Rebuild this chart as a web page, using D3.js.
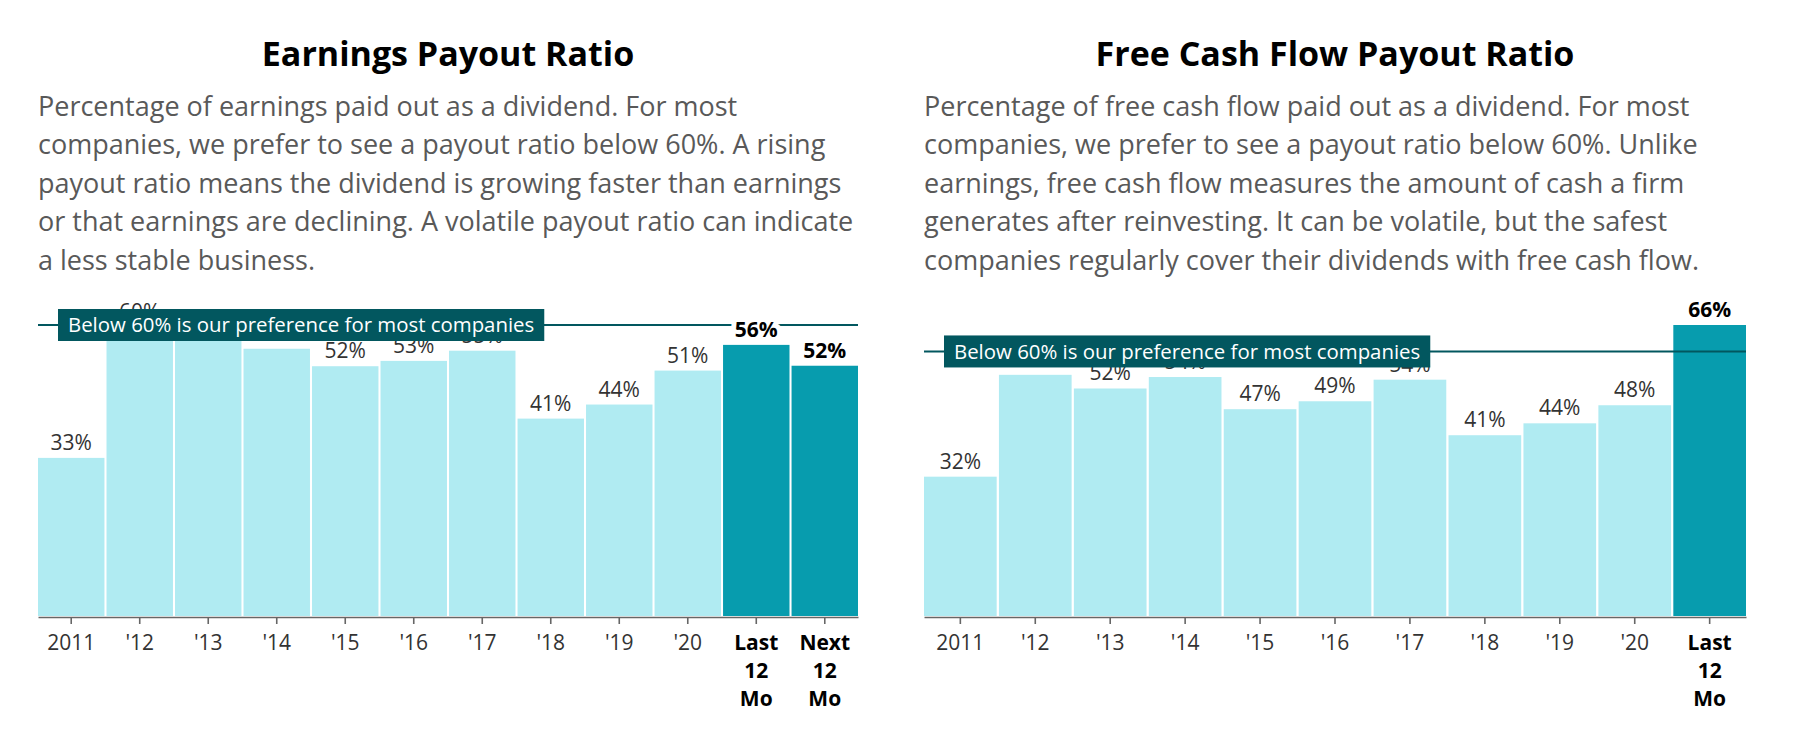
<!DOCTYPE html>
<html>
<head>
<meta charset="utf-8">
<script src="https://cdn.jsdelivr.net/npm/d3@7"></script>
<style>
  html, body { margin: 0; padding: 0; background: #fff; }
  svg { display: block; font-family: "Open Sans", "Noto Sans", sans-serif; }
</style>
</head>
<body>
<svg id="chart" width="1798" height="738"></svg>
<script>
// ---------- data ----------
const earningsCategories = ["2011", "'12", "'13", "'14", "'15", "'16", "'17", "'18", "'19", "'20", "Last 12 Mo", "Next 12 Mo"];
const earningsValues     = [32.6, 59.6, 58.0, 55.1, 51.5, 52.6, 54.7, 40.7, 43.6, 50.6, 55.9, 51.6];
const earningsHighlight  = [false, false, false, false, false, false, false, false, false, false, true, true];

const fcfCategories = ["2011", "'12", "'13", "'14", "'15", "'16", "'17", "'18", "'19", "'20", "Last 12 Mo"];
const fcfValues     = [31.6, 54.7, 51.6, 54.2, 46.9, 48.7, 53.6, 41.0, 43.7, 47.8, 66.0];
const fcfHighlight  = [false, false, false, false, false, false, false, false, false, false, true];

const earningsTitle = "Earnings Payout Ratio";
const earningsDescription = [
  "Percentage of earnings paid out as a dividend. For most",
  "companies, we prefer to see a payout ratio below 60%. A rising",
  "payout ratio means the dividend is growing faster than earnings",
  "or that earnings are declining. A volatile payout ratio can indicate",
  "a less stable business."
];
const fcfTitle = "Free Cash Flow Payout Ratio";
const fcfDescription = [
  "Percentage of free cash flow paid out as a dividend. For most",
  "companies, we prefer to see a payout ratio below 60%. Unlike",
  "earnings, free cash flow measures the amount of cash a firm",
  "generates after reinvesting. It can be volatile, but the safest",
  "companies regularly cover their dividends with free cash flow."
];
const thresholdValue = 60;
const thresholdLabel = "Below 60% is our preference for most companies";

// ---------- drawing ----------
const svg = d3.select("#chart");
const fmt = v => d3.format(".0f")(v) + "%";

const COLORS = {
  light: "#b0ebf2",
  dark: "#079cae",
  ref: "#02575f",
  axis: "#666666",
  label: "#333333",
  desc: "#595959"
};

function drawPanel(cfg) {
  const g = svg.append("g");
  const { x0, x1, categories, values, highlight, title, description } = cfg;
  const baseY = 616, topY = 325;

  // title
  g.append("text")
    .attr("x", (x0 + x1) / 2).attr("y", 66)
    .attr("text-anchor", "middle")
    .style("font-size", "34px").style("font-weight", 700).style("fill", "#000")
    .text(title);

  // description
  g.append("g").selectAll("text").data(description).join("text")
    .attr("x", x0).attr("y", (d, i) => 116 + i * 38.4)
    .style("font-size", "27px").style("fill", COLORS.desc)
    .text(d => d);

  const x = d3.scaleBand().domain(categories).range([x0, x1]).paddingInner(0.03).paddingOuter(0);
  const y = d3.scaleLinear().domain([0, Math.max(thresholdValue, d3.max(values))]).range([baseY, topY]);

  const data = categories.map((c, i) => ({ c, v: values[i], h: highlight[i] }));

  // bars
  g.append("g").selectAll("rect").data(data).join("rect")
    .attr("x", d => x(d.c)).attr("width", x.bandwidth())
    .attr("y", d => y(d.v)).attr("height", d => y(0) - y(d.v))
    .attr("fill", d => d.h ? COLORS.dark : COLORS.light);

  // threshold line
  g.append("line")
    .attr("x1", x0).attr("x2", x1)
    .attr("y1", y(thresholdValue)).attr("y2", y(thresholdValue))
    .attr("stroke", COLORS.ref).attr("stroke-width", 2);

  // value labels
  g.append("g").selectAll("text").data(data).join("text")
    .attr("x", d => x(d.c) + x.bandwidth() / 2)
    .attr("y", d => y(d.v) - 8)
    .attr("text-anchor", "middle")
    .style("font-size", "21px")
    .style("font-weight", d => d.h ? 700 : 400)
    .style("fill", d => d.h ? "#000" : COLORS.label)
    .attr("stroke", "#fff").attr("stroke-width", d => d.h ? 10 : 0)
    .attr("stroke-linejoin", "round")
    .style("paint-order", "stroke")
    .text(d => fmt(d.v));

  // annotation box
  const ann = g.append("g");
  const annText = ann.append("text")
    .attr("x", x0 + 20 + 10).attr("y", y(thresholdValue))
    .attr("dy", "0.35em")
    .style("font-size", "20.4px").style("fill", "#fff")
    .text(thresholdLabel);
  const tw = annText.node().getComputedTextLength();
  ann.insert("rect", "text")
    .attr("x", x0 + 20).attr("y", y(thresholdValue) - 16)
    .attr("width", tw + 20).attr("height", 32)
    .attr("fill", COLORS.ref);

  // axis
  const axis = d3.axisBottom(x).tickSize(7).tickSizeOuter(0).tickFormat("");
  const ag = g.append("g").attr("transform", `translate(0,${baseY + 1})`).call(axis);
  ag.select(".domain").attr("stroke", COLORS.axis).attr("stroke-width", 1.6);
  ag.selectAll(".tick line").attr("stroke", COLORS.axis).attr("stroke-width", 1.6);

  // tick labels
  const tl = g.append("g").selectAll("text").data(data).join("text")
    .attr("x", d => x(d.c) + x.bandwidth() / 2)
    .attr("y", 650)
    .attr("text-anchor", "middle")
    .style("font-size", "21px")
    .style("font-weight", d => d.h ? 700 : 400)
    .style("fill", d => d.h ? "#000" : COLORS.label);
  tl.each(function (d) {
    const t = d3.select(this);
    if (d.h) {
      d.c.split(" ").forEach((w, i) => {
        t.append("tspan").attr("x", x(d.c) + x.bandwidth() / 2).attr("dy", i === 0 ? 0 : 28).text(w);
      });
    } else {
      t.text(d.c);
    }
  });
}

drawPanel({ x0: 38, x1: 858, categories: earningsCategories, values: earningsValues, highlight: earningsHighlight, title: earningsTitle, description: earningsDescription });
drawPanel({ x0: 924, x1: 1746, categories: fcfCategories, values: fcfValues, highlight: fcfHighlight, title: fcfTitle, description: fcfDescription });
</script>
</body>
</html>
